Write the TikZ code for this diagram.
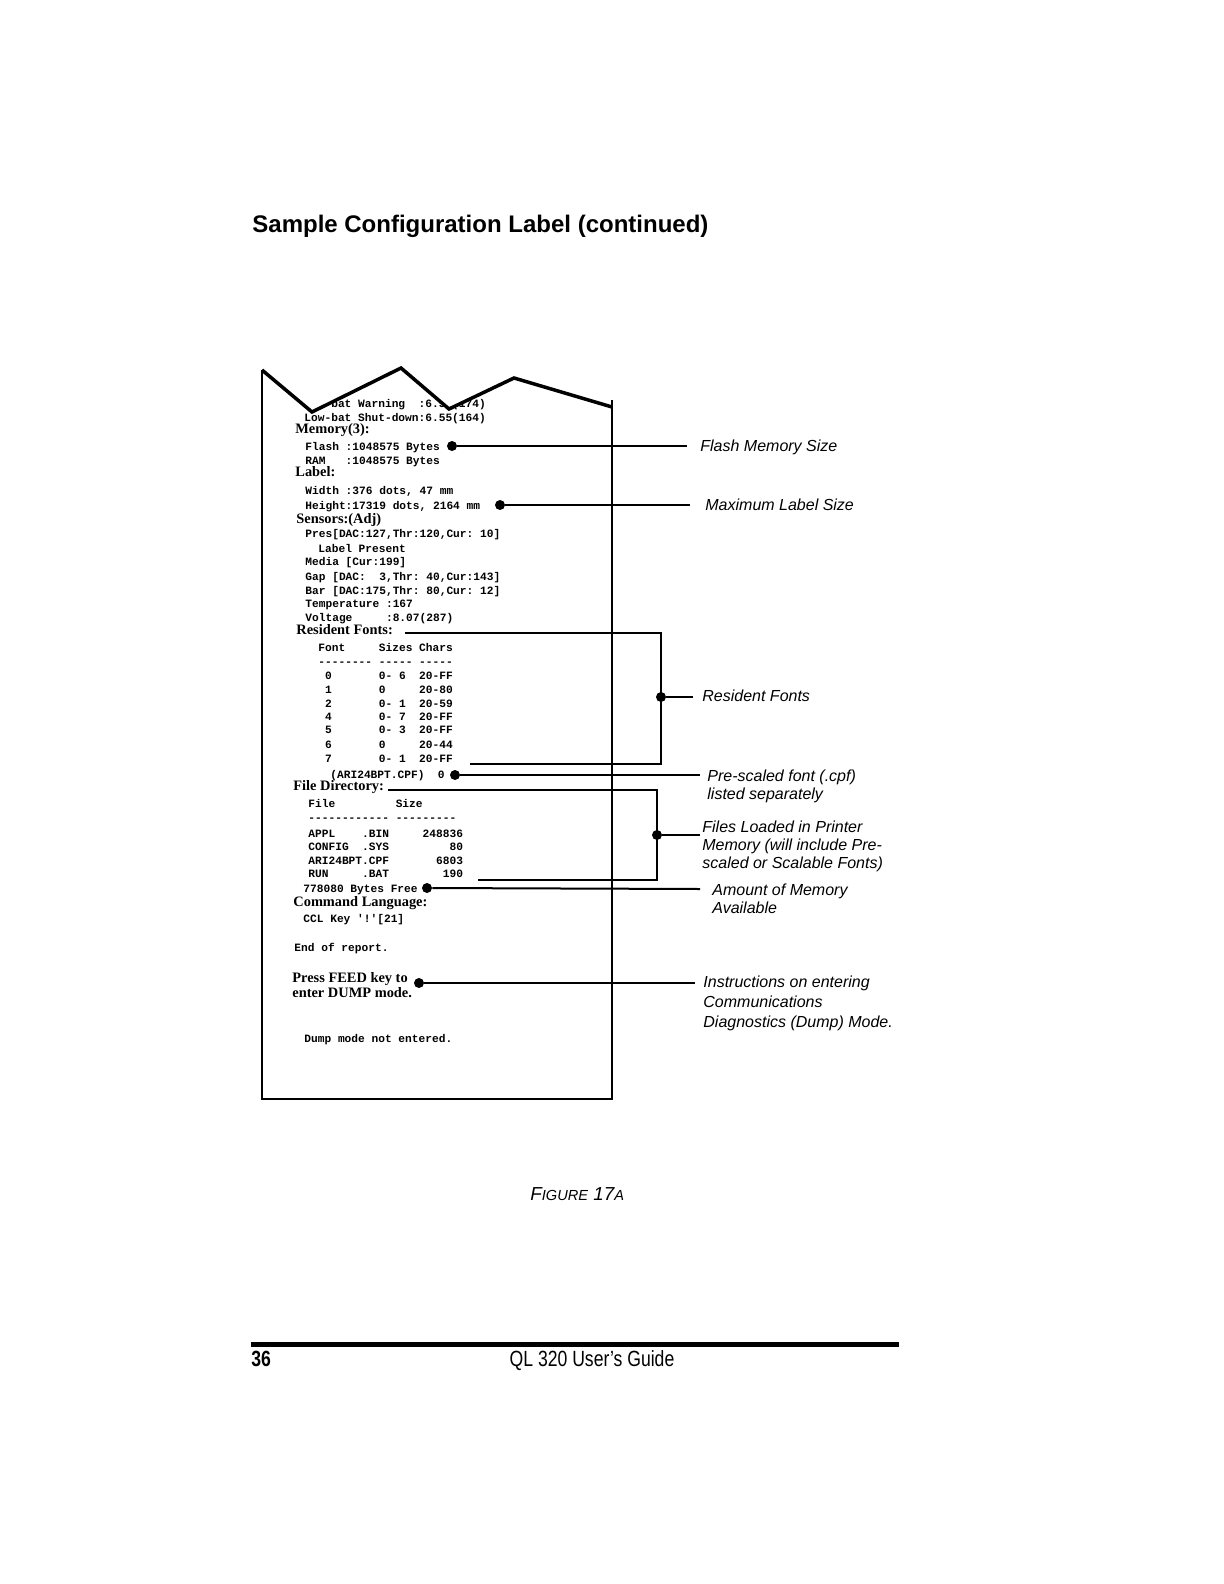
\documentclass[tikz,border=0pt]{standalone}
\usepackage{graphicx}
\usepackage{fontspec}
\setmainfont{Liberation Sans}
\newfontfamily\lserif{Liberation Serif}
\newfontfamily\lmono{Liberation Mono}
\begin{document}
\begin{tikzpicture}[x=0.5pt,y=-0.5pt,
  mono/.style={anchor=base west, inner sep=0pt, font=\lmono\bfseries\fontsize{5.6}{6}\selectfont},
  hdr/.style={anchor=base west, inner sep=0pt, font=\lserif\bfseries\fontsize{7.2}{8}\selectfont},
  callout/.style={anchor=base west, inner sep=0pt, font=\itshape\fontsize{8}{9}\selectfont},
  dot/.style={circle, fill=black, inner sep=0pt, minimum size=5pt},
  lead/.style={line width=1pt},
  paper/.style={line width=1pt},
]
\useasboundingbox (0,0) rectangle (1224,1584);

% title
\node[anchor=base west, inner sep=0pt, font=\bfseries\fontsize{12}{14}\selectfont] (title) at (252,232) {Sample Configuration Label (continued)};

% label text
\node[mono] (t00) at (304,407) {Low-bat Warning~~:6.50(174)};
\node[mono] (t01) at (304,421) {Low-bat Shut-down:6.55(164)};
\node[hdr]  (h1)  at (295,433) {Memory(3):};
\node[mono] (t02) at (305,450) {Flash :1048575 Bytes};
\node[mono] (t03) at (305,464) {RAM~~~:1048575 Bytes};
\node[hdr]  (h2)  at (295,476) {Label:};
\node[mono] (t04) at (305,494) {Width :376 dots, 47 mm};
\node[mono] (t05) at (305,509) {Height:17319 dots, 2164 mm};
\node[hdr]  (h3)  at (296,523) {Sensors:(Adj)};
\node[mono] (t06) at (305,537) {Pres[DAC:127,Thr:120,Cur:~10]};
\node[mono] (t07) at (318,552) {Label Present};
\node[mono] (t08) at (305,565) {Media [Cur:199]};
\node[mono] (t09) at (305,580) {Gap [DAC:~~3,Thr:~40,Cur:143]};
\node[mono] (t10) at (305,594) {Bar [DAC:175,Thr:~80,Cur:~12]};
\node[mono] (t11) at (305,607) {Temperature~:167};
\node[mono] (t12) at (305,621) {Voltage~~~~~:8.07(287)};
\node[hdr]  (h4)  at (296,634) {Resident Fonts:};
\node[mono] (t13) at (318,651) {Font~~~~~Sizes Chars};
\node[mono] (t14) at (318,665) {-------- ----- -----};
\node[mono] (r0) at (318,679) {~0~~~~~~~0-~6~~20-FF};
\node[mono] (r1) at (318,693) {~1~~~~~~~0~~~~~20-80};
\node[mono] (r2) at (318,707) {~2~~~~~~~0-~1~~20-59};
\node[mono] (r4) at (318,720) {~4~~~~~~~0-~7~~20-FF};
\node[mono] (r5) at (318,733) {~5~~~~~~~0-~3~~20-FF};
\node[mono] (r6) at (318,748) {~6~~~~~~~0~~~~~20-44};
\node[mono] (r7) at (318,762) {~7~~~~~~~0-~1~~20-FF};
\node[mono] (t15) at (330,778) {(ARI24BPT.CPF)~~0};
\node[hdr]  (h5)  at (293,790) {File Directory:};
\node[mono] (t16) at (308,807) {File~~~~~~~~~Size};
\node[mono] (t17) at (308,821) {------------ ---------};
\node[mono] (t18) at (308,837) {APPL~~~~.BIN~~~~~248836};
\node[mono] (t19) at (308,850) {CONFIG~~.SYS~~~~~~~~~80};
\node[mono] (t20) at (308,864) {ARI24BPT.CPF~~~~~~~6803};
\node[mono] (t21) at (308,877) {RUN~~~~~.BAT~~~~~~~~190};
\node[mono] (t22) at (303,892) {778080 Bytes Free};
\node[hdr]  (h6)  at (293,906) {Command Language:};
\node[mono] (t23) at (303,922) {CCL Key {\char"27}!{\char"27}[21]};
\node[mono] (t24) at (294,951) {End of report.};
\node[hdr]  (h7)  at (292,982) {Press FEED key to};
\node[hdr]  (h8)  at (292,997) {enter DUMP mode.};
\node[mono] (t25) at (304,1042) {Dump mode not entered.};

% torn top of the paper
\fill[white] (258,330) -- (262,370) -- (312,412) -- (401,368) -- (449,409) -- (514,378) -- (612,407) -- (616,330) -- cycle;
\draw[line width=1.75pt, line join=miter] (262,370) -- (312,412) -- (401,368) -- (449,409) -- (514,378) -- (612,407);
\draw[paper] (262,370) -- (262,1099) -- (612,1099) -- (612,400);

% callout points
\node[dot] (d1) at (452,446) {};
\node[dot] (d2) at (500,505) {};
\node[dot] (d3) at (661,697) {};
\node[dot] (d4) at (455,775) {};
\node[dot] (d5) at (657,835) {};
\node[dot] (d6) at (427,888) {};
\node[dot] (d7) at (419,983) {};

\coordinate (e1) at (687,446);
\coordinate (e2) at (690,505);
\coordinate (e3) at (693,697);
\coordinate (e4) at (700,775);
\coordinate (e5) at (700,835);
\coordinate (e6) at (700,889);
\coordinate (e7) at (695,983);

\coordinate (rfa) at (405,633);
\coordinate (rfc) at (470,764);
\coordinate (fda) at (388,790);
\coordinate (fdc) at (478,880);

\draw[lead] (d1) -- (e1);
\draw[lead] (d2) -- (e2);
\draw[lead] (rfa) -- (rfa -| d3) -- (rfc -| d3) -- (rfc);
\draw[lead] (d3) -- (e3);
\draw[lead] (d4) -- (e4);
\draw[lead] (fda) -- (fda -| d5) -- (fdc -| d5) -- (fdc);
\draw[lead] (d5) -- (e5);
\draw[lead] (d6) -- (e6);
\draw[lead] (d7) -- (e7);

% callout texts
\node[callout] (lab1)  at (700,451) {Flash Memory Size};
\node[callout] (lab2)  at (705,510) {Maximum Label Size};
\node[callout] (lab3)  at (702,701) {Resident Fonts};
\node[callout] (lab4a) at (707,781) {Pre-scaled font (.cpf)};
\node[callout] (lab4b) at (707,799) {listed separately};
\node[callout] (lab5a) at (702,832) {Files Loaded in Printer};
\node[callout] (lab5b) at (702,850) {Memory (will include Pre-};
\node[callout] (lab5c) at (702,868) {scaled or Scalable Fonts)};
\node[callout] (lab6a) at (712,895) {Amount of Memory};
\node[callout] (lab6b) at (712,913) {Available};
\node[callout] (lab7a) at (703,987) {Instructions on entering};
\node[callout] (lab7b) at (703,1007) {Communications};
\node[callout] (lab7c) at (703,1027) {Diagnostics (Dump) Mode.};

% caption
\node[anchor=base west, inner sep=0pt, font=\itshape\fontsize{9.4}{11}\selectfont] (fig) at (530,1200) {F{\fontsize{7.3}{9}\selectfont IGURE} 17{\fontsize{7.3}{9}\selectfont A}};

% footer
\coordinate (fl) at (251,1344);
\coordinate (fr) at (899,1344);
\draw[line width=2.5pt] (fl) -- (fr);
\node[anchor=base west, inner sep=0pt, font=\bfseries\fontsize{11}{13}\selectfont] (pg) at (251,1366) {\scalebox{0.8}[1]{36}};
\node[anchor=base, inner sep=0pt, font=\fontsize{11}{13}\selectfont] (guide) at (592,1366) {\scalebox{0.8}[1]{QL 320 User's Guide}};
\end{tikzpicture}
\end{document}
